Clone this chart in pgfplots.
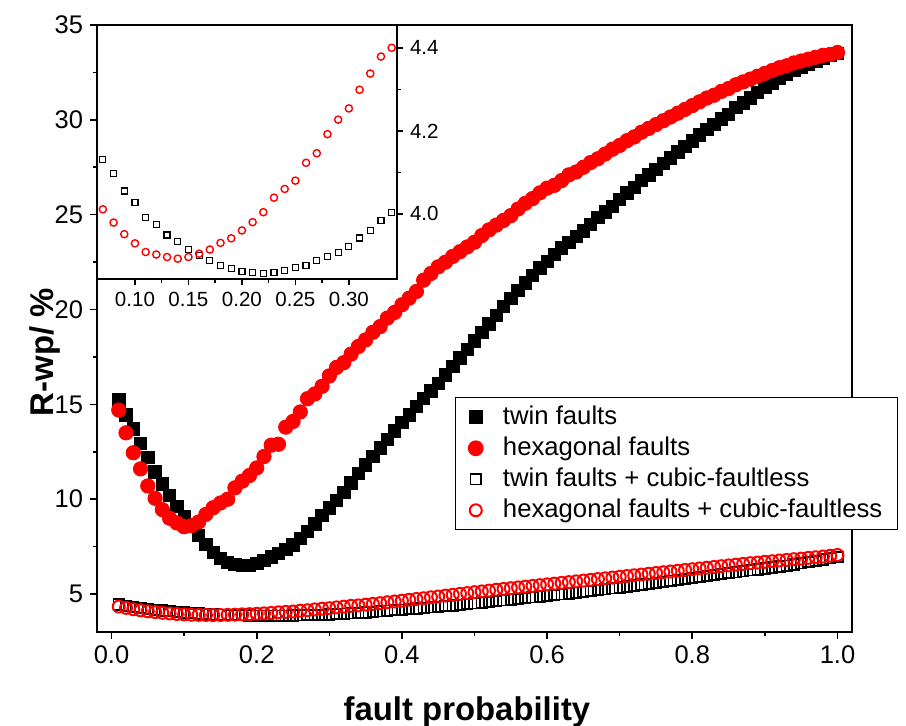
\documentclass[border=0pt]{standalone}
\usepackage{fontspec}
\setmainfont{Liberation Sans}
\usepackage{pgfplots}
\usepackage{pgfplotstable}
\pgfplotsset{compat=1.18}

% columns: fault probability, twin, hexagonal, twin+cubic, hexagonal+cubic
\pgfplotstableread{
x twin hex twinc hexc
0.01 15.23 14.70 4.45 4.34
0.02 14.45 13.50 4.38 4.27
0.03 13.70 12.45 4.32 4.20
0.04 12.95 11.60 4.26 4.14
0.05 12.20 10.70 4.21 4.09
0.06 11.45 10.05 4.17 4.05
0.07 10.80 9.45 4.131 4.011
0.08 10.20 9.00 4.097 3.979
0.09 9.62 8.75 4.055 3.951
0.10 9.08 8.55 4.027 3.929
0.11 8.57 8.60 3.992 3.908
0.12 8.08 8.80 3.975 3.902
0.13 7.62 9.20 3.949 3.896
0.14 7.20 9.55 3.933 3.892
0.15 6.88 9.80 3.914 3.896
0.16 6.68 10.00 3.900 3.904
0.17 6.55 10.60 3.888 3.914
0.18 6.50 10.95 3.876 3.930
0.19 6.52 11.25 3.868 3.941
0.20 6.62 11.65 3.862 3.960
0.21 6.78 12.25 3.859 3.980
0.22 6.95 12.85 3.856 4.004
0.23 7.13 12.90 3.859 4.039
0.24 7.35 13.80 3.864 4.060
0.25 7.60 14.10 3.870 4.080
0.26 7.95 14.60 3.876 4.123
0.27 8.30 15.30 3.888 4.146
0.28 8.70 15.55 3.898 4.192
0.29 9.15 15.95 3.906 4.227
0.30 9.55 16.50 3.922 4.254
0.31 9.95 16.95 3.942 4.299
0.32 10.35 17.20 3.960 4.338
0.33 10.85 17.65 3.984 4.379
0.34 11.35 18.05 4.003 4.400
0.35 11.80 18.40 4.03 4.44
0.36 12.25 18.80 4.06 4.48
0.37 12.70 19.10 4.09 4.52
0.38 13.15 19.55 4.12 4.57
0.39 13.60 19.85 4.15 4.61
0.40 14.05 20.25 4.18 4.65
0.41 14.45 20.60 4.21 4.70
0.42 14.90 20.95 4.24 4.74
0.43 15.30 21.55 4.27 4.78
0.44 15.70 21.90 4.30 4.83
0.45 16.10 22.25 4.33 4.87
0.46 16.55 22.50 4.37 4.92
0.47 17.00 22.80 4.40 4.96
0.48 17.45 23.05 4.44 5.01
0.49 17.90 23.30 4.47 5.05
0.50 18.35 23.55 4.51 5.10
0.51 18.80 23.90 4.55 5.14
0.52 19.25 24.20 4.59 5.18
0.53 19.70 24.45 4.63 5.23
0.54 20.15 24.70 4.67 5.27
0.55 20.60 24.95 4.71 5.31
0.56 21.00 25.30 4.75 5.35
0.57 21.40 25.60 4.79 5.39
0.58 21.80 25.85 4.83 5.43
0.59 22.20 26.15 4.87 5.47
0.60 22.55 26.40 4.91 5.51
0.61 22.90 26.55 4.95 5.55
0.62 23.25 26.80 4.99 5.59
0.63 23.55 27.10 5.03 5.63
0.64 23.85 27.25 5.07 5.67
0.65 24.15 27.50 5.12 5.71
0.66 24.50 27.75 5.16 5.75
0.67 24.85 27.95 5.21 5.79
0.68 25.15 28.20 5.25 5.83
0.69 25.45 28.45 5.30 5.87
0.70 25.80 28.65 5.35 5.91
0.71 26.15 28.90 5.40 5.95
0.72 26.45 29.10 5.45 5.99
0.73 26.80 29.35 5.50 6.03
0.74 27.10 29.55 5.55 6.07
0.75 27.40 29.75 5.60 6.11
0.76 27.70 29.95 5.65 6.15
0.77 28.00 30.15 5.70 6.19
0.78 28.30 30.35 5.75 6.23
0.79 28.60 30.55 5.80 6.27
0.80 28.90 30.75 5.85 6.31
0.81 29.20 30.95 5.90 6.35
0.82 29.50 31.15 5.95 6.39
0.83 29.75 31.30 6.00 6.43
0.84 30.05 31.50 6.05 6.47
0.85 30.30 31.65 6.10 6.51
0.86 30.65 31.85 6.15 6.55
0.87 30.90 32.00 6.20 6.59
0.88 31.15 32.15 6.25 6.63
0.89 31.45 32.30 6.30 6.66
0.90 31.70 32.45 6.35 6.70
0.91 31.95 32.60 6.40 6.73
0.92 32.20 32.75 6.45 6.77
0.93 32.40 32.85 6.50 6.80
0.94 32.60 33.00 6.56 6.84
0.95 32.80 33.10 6.62 6.87
0.96 32.95 33.20 6.68 6.91
0.97 33.10 33.30 6.75 6.94
0.98 33.25 33.40 6.82 6.98
0.99 33.40 33.45 6.89 7.02
1.00 33.50 33.55 6.96 7.06
}\faultdata

\begin{document}
\begin{tikzpicture}
    \begin{axis}[
            name=main,
            scale only axis,
            width=377.5bp, height=303.5bp,
            xmin=-0.02, xmax=1.02,
            ymin=3, ymax=35,
            xtick={0,0.2,0.4,0.6,0.8,1},
            ytick={5,10,15,20,25,30,35},
            minor x tick num=1, minor y tick num=1,
            xtick pos=lower, ytick pos=left,
            tick align=outside,
            major tick length=3.5bp, minor tick length=2bp,
            axis line style={line width=0.9bp},
            every tick/.style={line width=0.8bp, black},
            /pgf/number format/assume math mode=true,
            tick label style={font=\fontsize{12.8}{14}\selectfont},
            xticklabel style={/pgf/number format/.cd, fixed, fixed zerofill, precision=1},
            yticklabel style={/pgf/number format/.cd, fixed, precision=0},
            xlabel={fault probability},
            ylabel={R-wp/ \%},
            label style={font=\bfseries\fontsize{16.5}{18}\selectfont},
            xlabel style={at={(axis description cs:0.49,-0.132)}, anchor=center},
            ylabel style={at={(axis description cs:-0.069,0.461)}, anchor=center},
            legend style={
                    at={(axis description cs:0.474,0.387)},
                    anchor=north west,
                    draw=black, line width=0.7bp,
                    font=\fontsize{12.9}{14}\selectfont,
                    inner xsep=6.5bp, inner ysep=2bp,
                    row sep=0bp,
                    nodes={inner sep=1bp, text height=10.2bp, text depth=3.3bp},
                    /tikz/every odd column/.append style={column sep=9bp},
                },
            legend cell align=left,
        ]
        % filled markers: pure structures
        \addplot[only marks, mark=square*, mark size=3.1bp, black]
            table[x=x, y=twin] {\faultdata};
        \addlegendentry{twin faults}
        \addplot[only marks, mark=*, mark size=3.6bp, red]
            table[x=x, y=hex] {\faultdata};
        \addlegendentry{hexagonal faults}
        % open markers: mixed with cubic-faultless phase
        \addplot[only marks, mark=square, mark size=2.6bp, black, mark options={line width=0.9bp}]
            table[x=x, y=twinc] {\faultdata};
        \addlegendentry{twin faults + cubic-faultless}
        \addplot[only marks, mark=o, mark size=3.0bp, red, mark options={line width=1bp, fill=white}]
            table[x=x, y=hexc] {\faultdata};
        \addlegendentry{hexagonal faults + cubic-faultless}
    \end{axis}

    % inset: zoom on the minimum of the open-marker series
    \begin{axis}[
            name=inset,
            at={(main.north west)}, anchor=north west,
            scale only axis,
            width=150bp, height=127bp,
            xmin=0.0645, xmax=0.345,
            ymin=3.843, ymax=4.455,
            xtick={0.10,0.15,0.20,0.25,0.30},
            ytick={4.0,4.2,4.4},
            minor x tick num=1, minor y tick num=1,
            xtick pos=lower, ytick pos=right, yticklabel pos=right,
            tick align=outside,
            major tick length=3bp, minor tick length=2bp,
            axis line style={line width=0.9bp},
            every tick/.style={line width=0.7bp, black},
            axis background/.style={fill=white},
            /pgf/number format/assume math mode=true,
            tick label style={font=\fontsize{10.3}{12}\selectfont},
            xticklabel style={/pgf/number format/.cd, fixed, fixed zerofill, precision=2},
            yticklabel style={/pgf/number format/.cd, fixed, fixed zerofill, precision=1},
        ]
        \addplot[only marks, mark=square, mark size=1.5bp, black, mark options={line width=0.6bp},
            restrict x to domain=0.065:0.345]
            table[x=x, y=twinc] {\faultdata};
        \addplot[only marks, mark=o, mark size=1.8bp, red, mark options={line width=0.7bp},
            restrict x to domain=0.065:0.345]
            table[x=x, y=hexc] {\faultdata};
    \end{axis}

    \pgfresetboundingbox
    \path[use as bounding box] ([xshift=-48.5bp, yshift=-47bp]main.south west)
        rectangle ([xshift=27bp, yshift=12.5bp]main.north east);
\end{tikzpicture}
\end{document}
